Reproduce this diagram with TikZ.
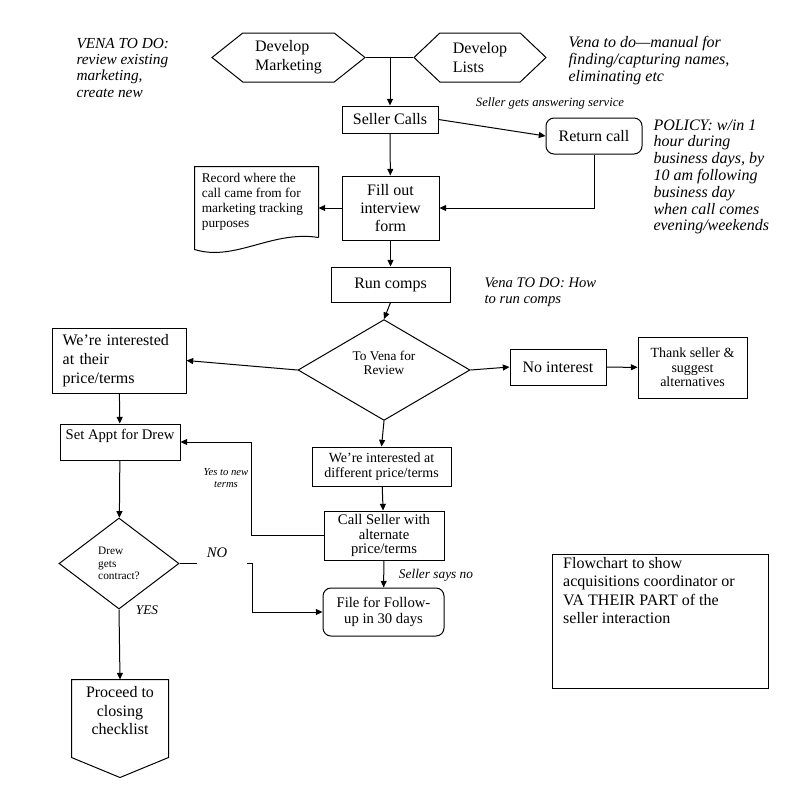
\documentclass[tikz,border=0pt]{standalone}
\usepackage{fontspec}
\setmainfont{Liberation Serif}
\usetikzlibrary{shapes.geometric,shapes.symbols,arrows.meta}
\newcommand{\fsz}[2]{\fontsize{#1}{#2}\selectfont}

\begin{document}
\begin{tikzpicture} [
                x=0.75pt, y=-0.75pt,
                line width=0.75pt,
                box/.style={
                    draw,
                    rectangle,
                    inner sep=2pt,
                    align=center
                },
                roundbox/.style={box, rounded corners=6pt},
                decision/.style={draw, diamond, inner sep=0pt, align=center},
                hexa/.style={draw, signal, signal to=west and east, inner sep=0pt, align=left},
                arr/.style={-{Triangle[length=5pt,width=4.5pt]}},
                note/.style={anchor=north west, inner sep=0pt, align=left},
                tag/.style={inner sep=1pt}
            ]
                \useasboundingbox (0,0) rectangle (805,789);

                \node[hexa, signal pointer angle=77, minimum width=114.75pt, minimum height=36.75pt, font=\fsz{12}{14}] (mkt) at (288.5,57.5) {Develop\\Marketing};
                \node[hexa, signal pointer angle=87, minimum width=99pt, minimum height=36.75pt, font=\fsz{12}{14}] (lists) at (480,57.5) {Develop\\Lists};
                \coordinate (topjoin) at (390,57.5);
                \node[box, minimum width=72pt, minimum height=20.25pt, font=\fsz{12}{14}] (calls) at (390,119.5) {Seller Calls};
                \node[roundbox, minimum width=72pt, minimum height=27pt, font=\fsz{12}{14}] (retcall) at (594,136) {Return call};
                \node[box, minimum width=72.75pt, minimum height=48pt, font=\fsz{12}{13.5}] (form) at (390.5,208) {Fill out\\interview\\form};
                \node[minimum width=92.25pt, minimum height=52.5pt, inner xsep=5pt, text width=82pt, align=flush left, font=\fsz{10}{11.25}] (record) at (256.5,202) {Record where the\\call came from for\\marketing tracking\\purposes};
                \node[box, minimum width=89.25pt, minimum height=26.25pt, font=\fsz{12}{14}] (comps) at (390.5,284.5) {Run comps};
                \node[decision, minimum width=129pt, minimum height=72pt, text depth=11pt, font=\fsz{10}{10.5}] (review) at (384,370) {To Vena for\\Review};
                \node[box, minimum height=48.75pt, inner xsep=8pt, text width=84.5pt, align=left, font=\fsz{12}{14}] (their) at (119,360.5) {We’re interested\\at their\\price/terms};
                \node[box, minimum width=72pt, minimum height=27pt, font=\fsz{12}{14}] (noint) at (558,367) {No interest};
                \node[box, minimum width=81.75pt, minimum height=45.75pt, font=\fsz{10.5}{11}] (thank) at (692.5,367.5) {Thank seller \&\\suggest\\alternatives};
                \node[box, minimum width=90pt, minimum height=27pt, text depth=12pt, font=\fsz{11}{13}] (appt) at (120,442) {Set Appt for Drew};
                \node[box, minimum width=104.25pt, minimum height=29.25pt, font=\fsz{10.5}{11}] (diff) at (381.5,466.5) {We’re interested at\\different price/terms};
                \node[box, minimum width=90pt, minimum height=36.75pt, font=\fsz{11}{11}] (alt) at (384,535.5) {Call Seller with\\alternate\\price/terms};
                \node[decision, minimum width=90pt, minimum height=68.25pt, align=left, font=\fsz{8.5}{9.5}] (drew) at (119,563.5) {Drew\\gets\\contract?};
                \node[roundbox, minimum width=90.75pt, minimum height=36pt, font=\fsz{11}{12}] (file) at (383.5,612) {File for Follow-\\up in 30 days};
                \node[minimum width=72pt, minimum height=57.75pt, inner sep=0pt, text depth=12pt, align=center, font=\fsz{12}{14}] (proceed) at (120,718.5) {Proceed to\\closing\\checklist};
                \node[draw, anchor=north west, inner xsep=8pt, inner ysep=2pt, font=\fsz{12}{13.9}] (flownote) at (552,554) {\parbox[t][96.5pt][t]{146pt}{Flowchart to show\\acquisitions coordinator or\\VA THEIR PART of the\\seller interaction}};

                \draw (record.south east) -- (record.north east) -- (record.north west) -- ([yshift=-9pt]record.south west)
                    .. controls (235,262) and (272,230) .. (record.south east);
                \draw (proceed.south east) -- (proceed.north east) -- (proceed.north west) -- (proceed.south west) -- ([yshift=-15pt]proceed.south) -- cycle;

                \node[note, font=\itshape\fsz{11.5}{12.25}] (venamkt) at (76,37.5) {VENA TO DO:\\review existing\\marketing,\\create new};
                \node[note, font=\itshape\fsz{12}{12.75}] (venalists) at (568,36) {Vena to do—manual for\\finding/capturing names,\\eliminating etc};
                \node[note, font=\itshape\fsz{12}{12.6}] (policy) at (653,119) {POLICY: w/in 1\\hour during\\business days, by\\10 am following\\business day\\when call comes\\evening/weekends};
                \node[note, font=\itshape\fsz{11}{12}] (venacomps) at (484,277) {Vena TO DO: How\\to run comps};
                \node[tag, font=\itshape\fsz{9.5}{11}] (answering) at (550,103) {Seller gets answering service};
                \node[tag, align=center, font=\itshape\fsz{8}{9}] (yesnew) at (226,478) {Yes to new\\terms};
                \node[tag, font=\itshape\fsz{11}{12}] (nolbl) at (217,553) {NO};
                \node[tag, font=\itshape\fsz{10}{12}] (saysno) at (436,575) {Seller says no};

                \coordinate (nostop) at (197,563.5);
                \coordinate (norestart) at (247,563.5);

                \draw (mkt.east) -- (lists.west);
                \draw[arr] (topjoin) -- (calls);
                \draw[arr] (calls.east) -- (retcall.west);
                \draw[arr] (retcall.south) |- (form.east);
                \draw[arr] (calls) -- (form);
                \draw[arr] (form.west) -- (form.west -| record.east);
                \draw[arr] (form) -- (comps);
                \draw[arr] (comps.south) -- (review.north);
                \draw[arr] (review.west) -- (their.east);
                \draw[arr] (review.east) -- (noint.west);
                \draw[arr] (noint) -- (thank);
                \draw[arr] (their) -- (appt);
                \draw[arr] (review.south) -- (diff.north);
                \draw[arr] (diff) -- (alt);
                \draw[arr] (alt.west) -- ++(-72,0) |- (appt.east);
                \draw[arr] (appt) -- (drew);
                \draw (drew.east) -- (nostop);
                \draw[arr] (norestart) -- ++(5,0) |- (file.west);
                \draw[arr] (alt) -- (file);
                \draw[arr] (drew.south) -- (proceed.north);
                \node[tag, inner sep=3pt, fill=white, font=\itshape\fsz{10}{12}] (yeslbl) at (147,610) {YES};
            \end{tikzpicture}
\end{document}
